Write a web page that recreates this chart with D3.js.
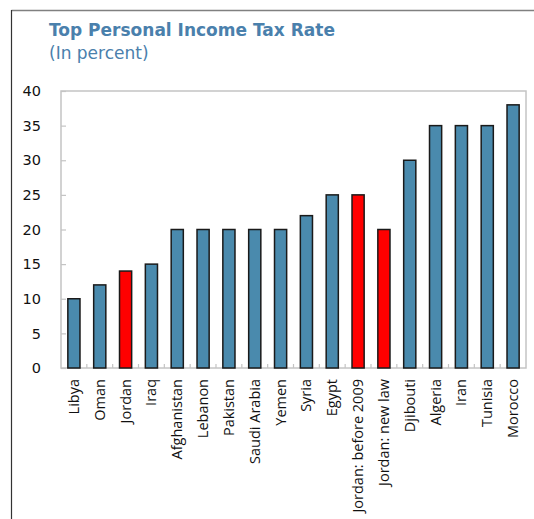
<!DOCTYPE html>
<html>
<head>
<meta charset="utf-8">
<script src="https://cdn.jsdelivr.net/npm/d3@7"></script>
<style>
  html, body { margin: 0; padding: 0; background: #fff; }
  svg { display: block; }
</style>
</head>
<body>
<svg id="chart" width="534" height="519"></svg>
<script>
// Top personal income tax rates, in percent
const categories = ["Libya", "Oman", "Jordan", "Iraq", "Afghanistan", "Lebanon", "Pakistan",
  "Saudi Arabia", "Yemen", "Syria", "Egypt", "Jordan: before 2009", "Jordan: new law",
  "Djibouti", "Algeria", "Iran", "Tunisia", "Morocco"];
const rates = [10, 12, 14, 15, 20, 20, 20, 20, 20, 22, 25, 25, 20, 30, 35, 35, 35, 38];
const highlighted = ["Jordan", "Jordan: before 2009", "Jordan: new law"];
const yTicks = [0, 5, 10, 15, 20, 25, 30, 35, 40];

const svg = d3.select("#chart");
const W = 534, H = 519;
const plot = { left: 61, right: 526, top: 91, bottom: 368 };

// Outer frame: top and left edges
svg.append("line").attr("x1", 11.5).attr("x2", W).attr("y1", 10.5).attr("y2", 10.5)
  .attr("stroke", "#808080").attr("stroke-width", 1.5);
svg.append("line").attr("x1", 11.5).attr("x2", 11.5).attr("y1", 10).attr("y2", H)
  .attr("stroke", "#333").attr("stroke-width", 1.2);

// Titles
svg.append("text").attr("x", 49).attr("y", 36)
  .attr("font-family", "DejaVu Sans, Verdana, sans-serif").attr("font-weight", "bold")
  .attr("font-size", 17).attr("fill", "#4a80ac").text("Top Personal Income Tax Rate");
svg.append("text").attr("x", 49).attr("y", 59)
  .attr("font-family", "DejaVu Sans, Verdana, sans-serif")
  .attr("font-size", 17).attr("fill", "#4a80ac").text("(In percent)");

const x = d3.scaleBand().domain(categories).range([plot.left, plot.right]).paddingInner(0.53).paddingOuter(0.265);
const y = d3.scaleLinear().domain([0, 40]).range([plot.bottom, plot.top]);

// Plot frame
svg.append("rect").attr("x", plot.left).attr("y", plot.top)
  .attr("width", plot.right - plot.left).attr("height", plot.bottom - plot.top)
  .attr("fill", "none").attr("stroke", "#c4c4c4").attr("stroke-width", 1.5);

// Y axis: inward ticks, labels outside
const yAxis = svg.append("g").attr("transform", `translate(${plot.left},0)`)
  .call(d3.axisRight(y).tickValues(yTicks).tickSize(5).tickFormat(""));
yAxis.select(".domain").remove();
yAxis.selectAll(".tick line").attr("stroke", "#c4c4c4").attr("stroke-width", 1.2);
svg.append("g").selectAll("text").data(yTicks).join("text")
  .attr("x", 41).attr("y", d => y(d)).attr("dy", "0.36em")
  .attr("text-anchor", "end")
  .attr("font-family", "DejaVu Sans, Verdana, sans-serif").attr("font-size", 14.5)
  .attr("fill", "#111").text(d => d);

// X axis: small upward ticks between categories
const step = x.step();
const boundaries = d3.range(1, categories.length).map(i => plot.left + x.paddingOuter() * step - x.paddingInner() * step / 2 + i * step);
svg.append("g").selectAll("line").data(boundaries).join("line")
  .attr("x1", d => d).attr("x2", d => d)
  .attr("y1", plot.bottom).attr("y2", plot.bottom - 4)
  .attr("stroke", "#c4c4c4").attr("stroke-width", 1.2);

// Bars
svg.append("g").selectAll("rect").data(categories).join("rect")
  .attr("x", d => x(d))
  .attr("y", (d, i) => y(rates[i]))
  .attr("width", x.bandwidth())
  .attr("height", (d, i) => y(0) - y(rates[i]))
  .attr("fill", d => highlighted.includes(d) ? "#ff0000" : "#4a8aad")
  .attr("stroke", "#1a1a1a").attr("stroke-width", 1.5);

// Category labels, rotated
svg.append("g").selectAll("text").data(categories).join("text")
  .attr("transform", d => `translate(${x(d) + x.bandwidth() / 2},${plot.bottom + 11}) rotate(-90)`)
  .attr("text-anchor", "end").attr("dy", "0.35em")
  .attr("font-family", "Open Sans, sans-serif").attr("font-size", 14.5)
  .attr("fill", "#111").text(d => d);
</script>
</body>
</html>
